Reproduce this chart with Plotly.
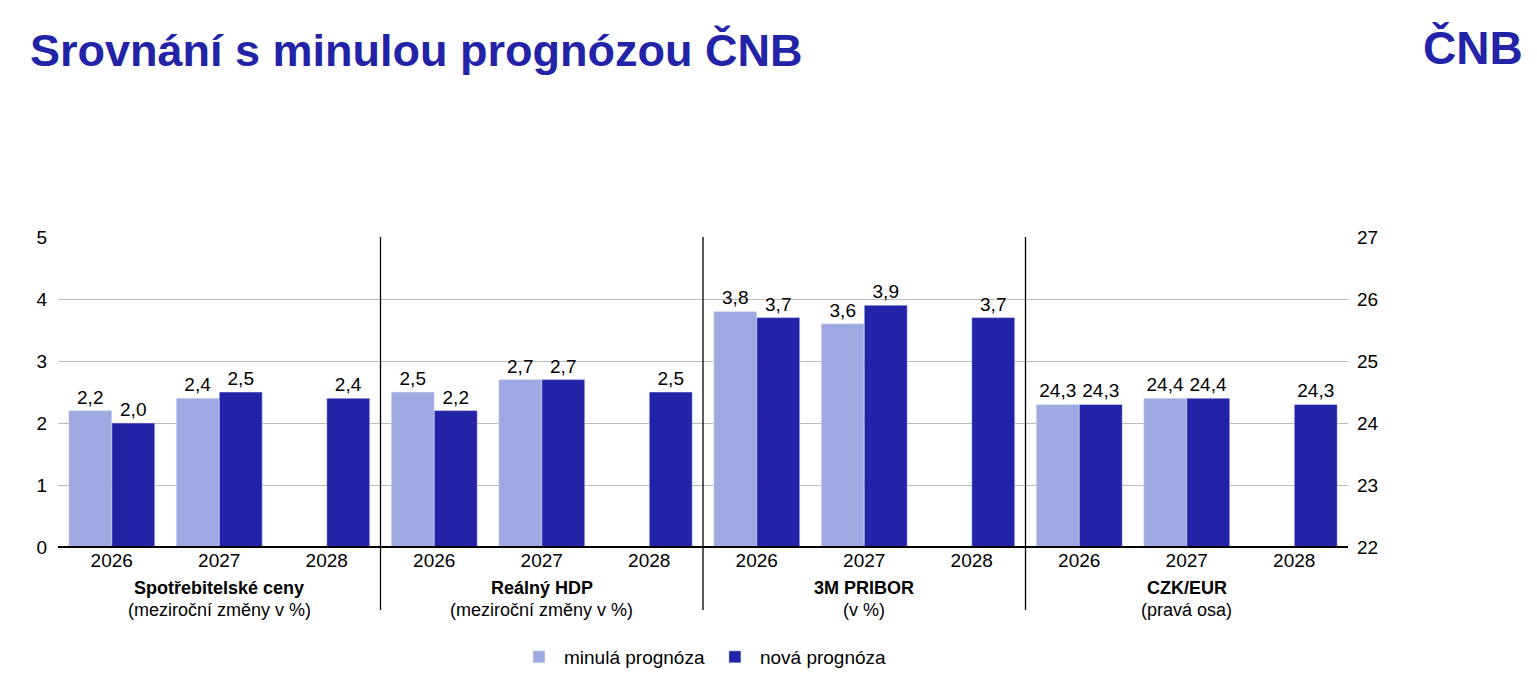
import plotly.graph_objects as go

years = ["2026", "2027", "2028"] * 4
groups = ["Spotřebitelské ceny", "Reálný HDP", "3M PRIBOR", "CZK/EUR"]
subs = ["(meziroční změny v %)", "(meziroční změny v %)", "(v %)", "(pravá osa)"]
old_left = [2.2, 2.4, None, 2.5, 2.7, None, 3.8, 3.6, None]
new_left = [2.0, 2.5, 2.4, 2.2, 2.7, 2.5, 3.7, 3.9, 3.7]
old_right = [24.3, 24.4, None]
new_right = [24.3, 24.4, 24.3]

LIGHT = "#9FA9E1"
DARK = "#2323A8"
fmt = lambda v: "" if v is None else f"{v:.1f}".replace(".", ",")
xl = list(range(9))
xr = [9, 10, 11]

TOP, BOT = 237, 547
H = BOT - TOP
py = lambda pix: (BOT - pix) / H

fig = go.Figure()
common = dict(textposition="outside", cliponaxis=False, textfont=dict(size=19, color="black"))
fig.add_bar(x=xl, y=old_left, marker_color=LIGHT, name="minulá prognóza", text=[fmt(v) for v in old_left], offsetgroup="a", **common)
fig.add_bar(x=xl, y=new_left, marker_color=DARK, name="nová prognóza", text=[fmt(v) for v in new_left], offsetgroup="b", **common)
fig.add_bar(x=xr, y=old_right, marker_color=LIGHT, showlegend=False, text=[fmt(v) for v in old_right], offsetgroup="a", yaxis="y2", **common)
fig.add_bar(x=xr, y=new_right, marker_color=DARK, showlegend=False, text=[fmt(v) for v in new_right], offsetgroup="b", yaxis="y2", **common)

for xv in [2.5, 5.5, 8.5]:
    fig.add_shape(type="line", xref="x", yref="paper", x0=xv, x1=xv, y0=py(610), y1=1, line=dict(color="black", width=1.3))
fig.add_shape(type="line", xref="paper", yref="paper", x0=0, x1=1, y0=0, y1=0, line=dict(color="black", width=2))

for i, (g, s) in enumerate(zip(groups, subs)):
    fig.add_annotation(x=3 * i + 1, y=py(588), yanchor="middle", xref="x", yref="paper", text=f"<b>{g}</b>", showarrow=False, font=dict(size=18, color="black"))
    fig.add_annotation(x=3 * i + 1, y=py(610), yanchor="middle", xref="x", yref="paper", text=s, showarrow=False, font=dict(size=18, color="black"))

fig.add_annotation(x=(28 - 58) / 1284, y=py(50), xref="paper", yref="paper", xanchor="left", yanchor="middle", text="<b>Srovnání s minulou prognózou ČNB</b>", showarrow=False, font=dict(size=45, color=DARK))
fig.add_annotation(x=(1518 - 58) / 1284, y=py(48), xref="paper", yref="paper", xanchor="right", yanchor="middle", text="<b>ČNB</b>", showarrow=False, font=dict(size=46, color=DARK, family="Liberation Sans Narrow, Liberation Sans"))

fig.update_layout(
    width=1537, height=687, margin=dict(l=50, r=197, t=229, b=148),
    paper_bgcolor="white", plot_bgcolor="white",
    font=dict(family="Liberation Sans, Arial", size=17, color="black"),
    barmode="group", bargap=0.2, bargroupgap=0,
    xaxis=dict(range=[-0.5, 11.5], tickmode="array", tickvals=list(range(12)), ticktext=years, showgrid=False, tickfont=dict(size=19), ticks=""),
    yaxis=dict(range=[0, 5], dtick=1, gridcolor="#BBBBBB", zeroline=False, tickfont=dict(size=19), ticklabelstandoff=10),
    yaxis2=dict(range=[22, 27], dtick=1, overlaying="y", side="right", showgrid=False, tickfont=dict(size=19), ticklabelstandoff=8),
    legend=dict(orientation="h", x=0.5, xanchor="center", y=py(657), yanchor="middle", font=dict(size=19), itemwidth=40, tracegroupgap=0),
)
fig.write_html("out.html")
